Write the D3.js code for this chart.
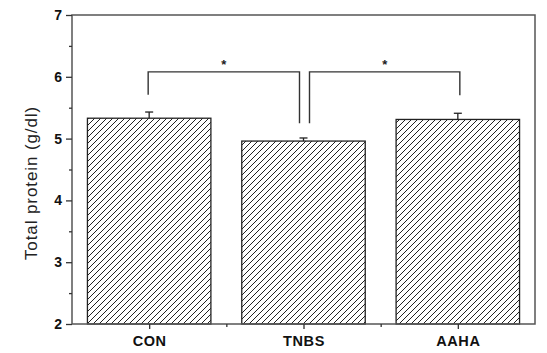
<!DOCTYPE html>
<html>
<head>
<meta charset="utf-8">
<script src="https://cdn.jsdelivr.net/npm/d3@7"></script>
<style>
  body { margin: 0; background: #fff; }
  svg { display: block; font-family: Arial, "Liberation Sans", sans-serif; }
</style>
</head>
<body>
<svg id="chart" width="547" height="353"></svg>
<script>
const groups = ["CON", "TNBS", "AAHA"];
const means = [5.33, 4.96, 5.31];
const errors = [0.1, 0.05, 0.1];
const yTicks = [2, 3, 4, 5, 6, 7];

// significance brackets: which groups, bracket height, how low each leg drops
const brackets = [
  { a: 0, b: 1, top: 6.08, legA: 5.71, legB: 5.25, label: "*" },
  { a: 1, b: 2, top: 6.08, legA: 5.25, legB: 5.70, label: "*" }
];

const margin = { top: 15, right: 12, bottom: 29, left: 72 };
const width = 547 - margin.left - margin.right;
const height = 353 - margin.top - margin.bottom;

const svg = d3.select("#chart");

// hatch pattern for bars
svg.append("defs").append("pattern")
    .attr("id", "hatch")
    .attr("patternUnits", "userSpaceOnUse")
    .attr("width", 6)
    .attr("height", 6)
    .append("path")
    .attr("d", "M0,6 L6,0 M-1,1 L1,-1 M5,7 L7,5")
    .attr("stroke", "#222")
    .attr("stroke-width", 1);

const g = svg.append("g")
    .attr("transform", `translate(${margin.left},${margin.top})`);

const x = d3.scaleLinear().domain([0.5, 3.5]).range([0, width]);
const y = d3.scaleLinear().domain([2, 7]).range([height, 0]);
const barW = 0.8;

// bars
g.selectAll(".bar")
    .data(means)
    .join("rect")
    .attr("class", "bar")
    .attr("x", (d, i) => x(i + 1 - barW / 2))
    .attr("width", x(1 + barW / 2) - x(1 - barW / 2))
    .attr("y", d => y(d))
    .attr("height", d => y(2) - y(d))
    .attr("fill", "url(#hatch)")
    .attr("stroke", "#222")
    .attr("stroke-width", 1.3);

// error bars (upper only)
means.forEach((m, i) => {
    const cx = x(i + 1);
    g.append("line")
        .attr("x1", cx).attr("x2", cx)
        .attr("y1", y(m)).attr("y2", y(m + errors[i]))
        .attr("stroke", "#222").attr("stroke-width", 1.3);
    g.append("line")
        .attr("x1", cx - 4).attr("x2", cx + 4)
        .attr("y1", y(m + errors[i])).attr("y2", y(m + errors[i]))
        .attr("stroke", "#222").attr("stroke-width", 1.3);
});

// brackets
brackets.forEach(b => {
    const xa = x(b.a + 1) + (b.a === 1 ? 6 : -1);
    const xb = x(b.b + 1) + (b.b === 1 ? -4 : 2);
    g.append("path")
        .attr("d", `M${xa},${y(b.legA)} V${y(b.top)} H${xb} V${y(b.legB)}`)
        .attr("fill", "none")
        .attr("stroke", "#333")
        .attr("stroke-width", 1.4);
    g.append("text")
        .attr("x", (xa + xb) / 2)
        .attr("y", y(b.top) - 3)
        .attr("text-anchor", "middle")
        .style("font-size", "13px")
        .style("font-weight", "bold")
        .attr("fill", "#222")
        .text(b.label);
});

// frame
g.append("rect")
    .attr("width", width)
    .attr("height", height)
    .attr("fill", "none")
    .attr("stroke", "#555")
    .attr("stroke-width", 1.5);

// y axis
const yAxis = g.append("g")
    .call(d3.axisLeft(y).tickValues(yTicks).tickFormat(d3.format("d")).tickSize(6).tickPadding(4));
yAxis.select(".domain").remove();
yAxis.selectAll("line").attr("stroke", "#333").attr("stroke-width", 1.3);
yAxis.selectAll("text")
    .style("font-size", "14px")
    .style("font-weight", "bold")
    .attr("fill", "#111");
g.append("g")
    .call(d3.axisLeft(y).tickValues([2.5, 3.5, 4.5, 5.5, 6.5]).tickSize(3).tickFormat(""))
    .call(s => s.select(".domain").remove())
    .selectAll("line").attr("stroke", "#333").attr("stroke-width", 1.3);

// x axis
const xAxis = g.append("g")
    .attr("transform", `translate(0,${height})`)
    .call(d3.axisBottom(x).tickValues([1, 2, 3]).tickFormat((d, i) => groups[i]).tickSize(5).tickPadding(7));
xAxis.select(".domain").remove();
xAxis.selectAll("line").attr("stroke", "#333").attr("stroke-width", 1.3);
xAxis.selectAll("text")
    .style("font-size", "14.5px")
    .style("font-weight", "bold")
    .style("letter-spacing", "0.6px")
    .attr("fill", "#111");
g.append("g")
    .attr("transform", `translate(0,${height})`)
    .call(d3.axisBottom(x).tickValues([1.5, 2.5]).tickSize(3).tickFormat(""))
    .call(s => s.select(".domain").remove())
    .selectAll("line").attr("stroke", "#333").attr("stroke-width", 1.3);

// y label
svg.append("text")
    .attr("transform", `translate(37,${183}) rotate(-90)`)
    .attr("text-anchor", "middle")
    .style("font-size", "17px")
    .style("letter-spacing", "0.9px")
    .attr("fill", "#222")
    .text("Total protein (g/dl)");
</script>
</body>
</html>
